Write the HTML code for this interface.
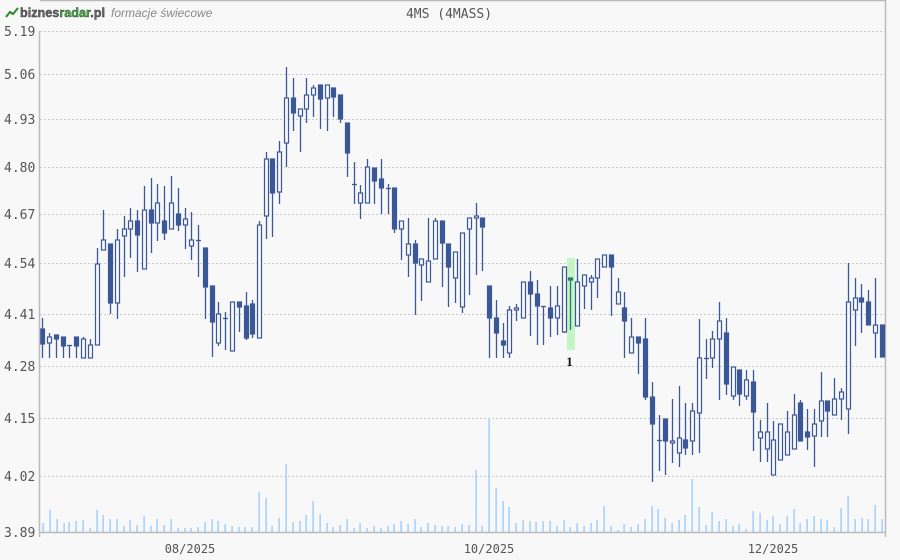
<!DOCTYPE html>
<html><head><meta charset="utf-8"><style>
html,body{margin:0;padding:0;background:#f8f8f8;}
svg{display:block;}
.t{font-family:"DejaVu Sans Mono","Liberation Mono",monospace;font-size:13px;fill:#555;}
</style></head><body>
<svg id="s" width="900" height="560" viewBox="0 0 900 560" xmlns="http://www.w3.org/2000/svg">
<rect width="900" height="560" fill="#f8f8f8"/>
<line x1="40" y1="0.5" x2="886" y2="0.5" stroke="#bbb" stroke-width="1.5"/>
<line x1="885.5" y1="0" x2="885.5" y2="537" stroke="#bbb" stroke-width="1.5"/>
<g id="grid"></g>
<g id="vol"></g>
<rect x="567" y="258" width="8" height="92" fill="#c4f5c4"/>
<g id="cdl"></g>
<line x1="39.5" y1="31" x2="39.5" y2="537" stroke="#bbb" stroke-width="1.5"/>
<line x1="39" y1="532.5" x2="886" y2="532.5" stroke="#bbb" stroke-width="1.5"/>
<g id="lbl"></g>
<text x="569.5" y="366" text-anchor="middle" font-family="Liberation Serif,serif" font-weight="bold" font-size="13" fill="#111">1</text>
<text x="449" y="18" text-anchor="middle" class="t">4MS (4MASS)</text>
<text x="190" y="553" text-anchor="middle" class="t" style="font-size:12px">08/2025</text>
<text x="489" y="553" text-anchor="middle" class="t" style="font-size:12px">10/2025</text>
<text x="773" y="553" text-anchor="middle" class="t" style="font-size:12px">12/2025</text>
<polyline points="6,17 10,12 13,14 18,8" fill="none" stroke="#2a8a2a" stroke-width="2"/>
<text x="20" y="17" font-family="Liberation Sans,sans-serif" font-weight="bold" font-size="13" fill="#666" stroke="#333" stroke-width="0.4" textLength="85" lengthAdjust="spacingAndGlyphs">biznes<tspan fill="#3bb33b">radar</tspan>.pl</text>
<text x="111" y="17" font-family="Liberation Sans,sans-serif" font-style="italic" font-size="12" fill="#888">formacje świecowe</text>
</svg>
<script>
var NS="http://www.w3.org/2000/svg";
function el(p,n,a){var e=document.createElementNS(NS,n);for(var k in a)e.setAttribute(k,a[k]);p.appendChild(e);return e;}
var grid=document.getElementById('grid'),lbl=document.getElementById('lbl');
var G=[[31,"5.19"],[74,"5.06"],[119,"4.93"],[167,"4.80"],[214,"4.67"],[263,"4.54"],[314,"4.41"],[366,"4.28"],[418,"4.15"],[476,"4.02"],[532,"3.89"]];
G.forEach(function(g){
 if(g[0]<532) el(grid,'line',{x1:40,y1:g[0]+0.5,x2:885,y2:g[0]+0.5,stroke:'#ccc','stroke-dasharray':'2,2'});
 var t=el(lbl,'text',{x:4,y:g[0]+5,'class':'t'});t.textContent=g[1];
});
var V=[[43,523],[50,510],[57,519],[64,523],[69,522],[76,521],[83,520],[90,528],[97,510],[103,515],[110,519],[117,519],[124,526],[130,520],[137,525],[144,516],[151,526],[157,519],[164,525],[171,519],[178,528],[185,528],[191,528],[198,527],[205,522],[212,519],[218,521],[225,524],[232,526],[239,527],[245,527],[252,527],[259,492],[266,498],[272,526],[279,518],[286,464],[293,522],
[300,521],[306,515],[313,501],[320,514],[327,523],[333,527],[340,525],[347,519],[354,528],[360,523],[367,528],[374,526],[381,528],[388,526],[394,524],[401,521],[408,524],[415,519],[421,527],[428,523],[435,525],[442,526],[448,526],[455,527],[462,524],[469,525],[476,470],[482,526],[489,419],[496,488],[503,501],[509,507],[516,523],[523,520],[530,521],[536,522],[543,521],[550,521],[557,526],[564,520],[570,527],[577,523],[584,526],
[591,523],[597,520],[604,506],[611,526],[618,530],[624,524],[631,527],[638,524],[645,519],[652,506],[658,509],[665,518],[672,523],[679,520],[685,515],[692,479],[699,507],[706,525],[712,512],[719,521],[726,519],[733,526],[739,524],[746,529],[753,511],[760,513],[767,520],[773,516],[780,524],[787,516],[794,509],[800,523],[807,519],[814,516],[821,519],[827,520],[834,527],[841,508],[848,496],[855,519],[862,518],[868,519],[875,505],[882,519]];
var vol=document.getElementById('vol');
V.forEach(function(v){el(vol,'rect',{x:v[0]-0.6,y:v[1],width:1.4,height:532-v[1],fill:'#99ccff'});});
var C=[[42,318,329,344,358,1],[49,333,337,343,358,0],[56,335,335,339,358,1],[63,337,337,346,358,1],[69,345,345,345,358,2],[76,337,337,346,358,1],[83,337,339,358,358,0],[90,339,345,358,358,0],[97,248,264,345,345,0],[103,210,240,250,250,0],[110,244,244,303,314,1],[117,229,240,303,319,0],[124,216,229,236,277,0],[130,208,221,229,258,0],[137,210,221,235,272,1],[144,186,210,269,269,0],[151,178,210,223,253,1],[157,184,203,223,241,0],[164,186,221,233,240,1],[171,176,203,229,229,0],[178,188,214,225,231,1],[185,208,219,225,249,0],[191,212,240,246,260,0],[198,225,240,240,277,2],[205,248,248,287,319,1],[212,286,286,322,357,1],[218,302,314,343,346,0],[225,312,318,318,350,2],[232,302,302,351,351,0],[239,302,302,307,332,1],[246,292,306,338,340,1],[252,300,304,334,338,1],[259,221,225,338,338,0],[266,152,159,216,239,0],[272,159,159,193,237,1],[279,141,152,192,204,0],[286,67,98,143,167,0],[293,78,98,113,131,1],[300,109,109,116,152,0],[306,78,95,109,123,0],[313,85,88,95,117,0],[320,85,85,99,129,1],[327,85,85,98,131,0],[333,88,88,97,117,1],[340,95,95,119,123,1],[347,123,123,153,177,1],[354,162,184,184,204,2],[360,185,193,203,219,0],[367,159,167,203,203,0],[374,168,168,181,204,1],[381,159,179,188,214,1],[388,184,188,188,214,2],[394,188,188,229,233,1],[401,221,221,229,260,0],[408,218,244,255,277,0],[415,240,244,263,315,1],[421,259,259,265,301,0],[428,218,261,282,282,0],[435,218,221,259,259,0],[442,221,221,243,287,1],[448,244,244,267,307,1],[455,252,252,278,303,0],[462,233,233,307,313,0],[469,218,218,229,295,0],[476,203,216,218,275,0],[482,218,218,227,271,1],[489,286,286,318,358,1],[496,300,318,333,358,1],[503,323,341,345,358,1],[509,306,310,353,358,0],[516,304,308,310,321,0],[523,282,282,318,318,0],[530,271,282,294,336,1],[537,280,294,306,345,1],[543,306,306,306,345,2],[550,286,308,318,337,1],[557,286,306,318,335,0],[564,267,267,332,333,0],[570,278,278,280,330,3],[577,259,282,326,326,0],[584,275,275,286,309,0],[591,275,278,282,310,0],[597,259,259,278,298,0],[604,255,255,267,267,0],[611,255,255,267,316,1],[618,278,292,304,304,0],[624,292,308,321,358,1],[631,318,337,353,353,0],[638,337,337,343,374,1],[645,318,339,397,400,1],[652,382,397,424,482,1],[659,415,440,440,471,2],[665,419,419,441,475,1],[672,399,441,443,463,0],[679,386,438,453,467,0],[685,403,440,448,455,1],[692,403,411,441,455,0],[699,319,358,413,453,0],[706,339,358,358,379,2],[712,331,339,358,368,0],[719,302,321,339,400,0],[726,318,333,384,395,1],[733,367,367,396,400,0],[739,370,370,394,406,1],[746,370,380,396,400,0],[753,370,382,412,451,1],[760,420,432,438,462,0],[767,403,432,449,462,0],[773,421,440,475,475,0],[780,424,424,460,460,0],[787,411,432,455,455,0],[794,394,415,449,449,0],[800,400,403,441,441,1],[807,409,432,437,450,1],[814,409,424,436,467,0],[821,372,401,421,437,0],[827,401,401,411,437,1],[834,378,399,415,415,0],[841,388,392,399,420,0],[848,263,302,409,434,0],[855,278,298,310,346,0],[861,284,298,302,333,1],[868,290,302,325,325,1],[875,278,325,333,358,0],[882,325,325,357,357,1]];
var cdl=document.getElementById('cdl');
C.forEach(function(c){
 var x=c[0]+0.5,col=c[5]==3?'#2a7a70':'#3a5898';
 el(cdl,'line',{x1:x,y1:c[1],x2:x,y2:c[4],stroke:col,'stroke-width':1.3});
 if(c[5]==2){el(cdl,'line',{x1:x-2.5,y1:c[2]+0.5,x2:x+2.5,y2:c[2]+0.5,stroke:col,'stroke-width':1.3});}
 else{var h=Math.max(c[3]-c[2],2);
  if(c[5]==0) el(cdl,'rect',{x:x-2,y:c[2],width:4,height:h,fill:'#f8f8f8',stroke:col,'stroke-width':1.2});
  else el(cdl,'rect',{x:x-2.6,y:c[2]-0.6,width:5.2,height:h+1.2,fill:col});}
});
</script>
</body></html>
